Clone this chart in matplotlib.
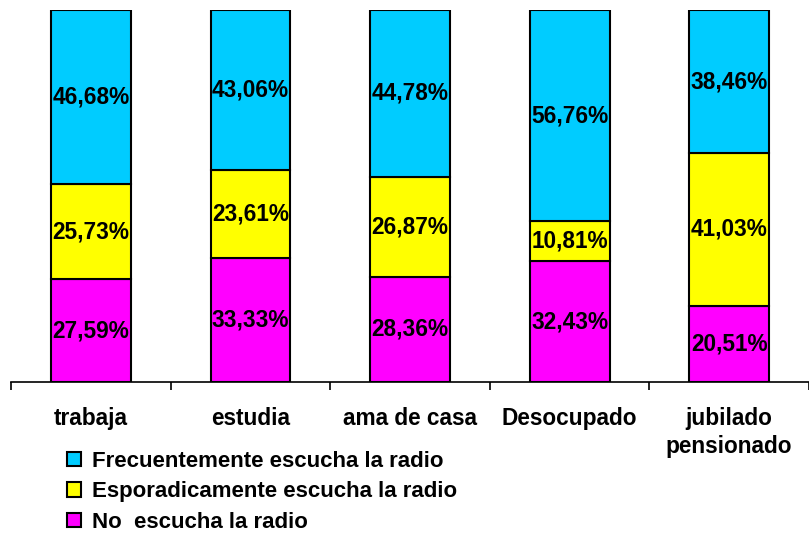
import matplotlib
matplotlib.use('Agg')
import matplotlib.pyplot as plt
import numpy as np

plt.rcParams['font.family'] = ['Liberation Sans', 'DejaVu Sans']

categories = ['trabaja', 'estudia', 'ama de casa', 'Desocupado', 'jubilado\npensionado']
no_escucha = [27.59, 33.33, 28.36, 32.43, 20.51]
esporadica = [25.73, 23.61, 26.87, 10.81, 41.03]
frecuente = [46.68, 43.06, 44.78, 56.76, 38.46]

series = [
    ('No  escucha la radio', no_escucha, '#FF00FF'),
    ('Esporadicamente escucha la radio', esporadica, '#FFFF00'),
    ('Frecuentemente escucha la radio', frecuente, '#00CCFF'),
]

fig = plt.figure(figsize=(8.09, 5.37), dpi=100)
ax = fig.add_axes([11 / 809, 155 / 537, 798 / 809, 372 / 537])

x = np.arange(len(categories))
bottom = np.zeros(len(categories))
handles = {}
for name, vals, color in series:
    vals = np.array(vals)
    bars = ax.bar(x, vals, width=0.5, bottom=bottom, color=color,
                  edgecolor='black', linewidth=1.5, label=name)
    handles[name] = bars
    for xi, b, v in zip(x, bottom, vals):
        ax.text(xi, b + v / 2, ('%.2f%%' % v).replace('.', ','),
                ha='center', va='center', fontsize=16.3, fontweight='bold')
    bottom = bottom + vals

ax.set_xlim(-0.5, 4.5)
ax.set_ylim(0, 100)
ax.set_xticks(x)
ax.set_xticklabels(categories, fontsize=16.3, fontweight='bold', linespacing=1.3)
ax.set_xticks(np.arange(-0.5, 5.0, 1.0), minor=True)
ax.tick_params(axis='x', which='major', length=0, pad=18)
ax.tick_params(axis='x', which='minor', length=6, width=1.2, direction='out')
ax.set_yticks([])
for s in ['left', 'top', 'right']:
    ax.spines[s].set_visible(False)
ax.spines['bottom'].set_linewidth(1.2)

order = ['Frecuentemente escucha la radio', 'Esporadicamente escucha la radio',
         'No  escucha la radio']
leg = fig.legend([handles[n] for n in order], order, loc='upper left',
                 bbox_to_anchor=(67 / 809, 1 - 451 / 537), frameon=False,
                 prop={'size': 16, 'weight': 'bold'}, handlelength=0.63,
                 handleheight=0.63, handletextpad=0.5, labelspacing=0.42,
                 borderpad=0, borderaxespad=0)

fig.savefig('out.png', dpi=100)
